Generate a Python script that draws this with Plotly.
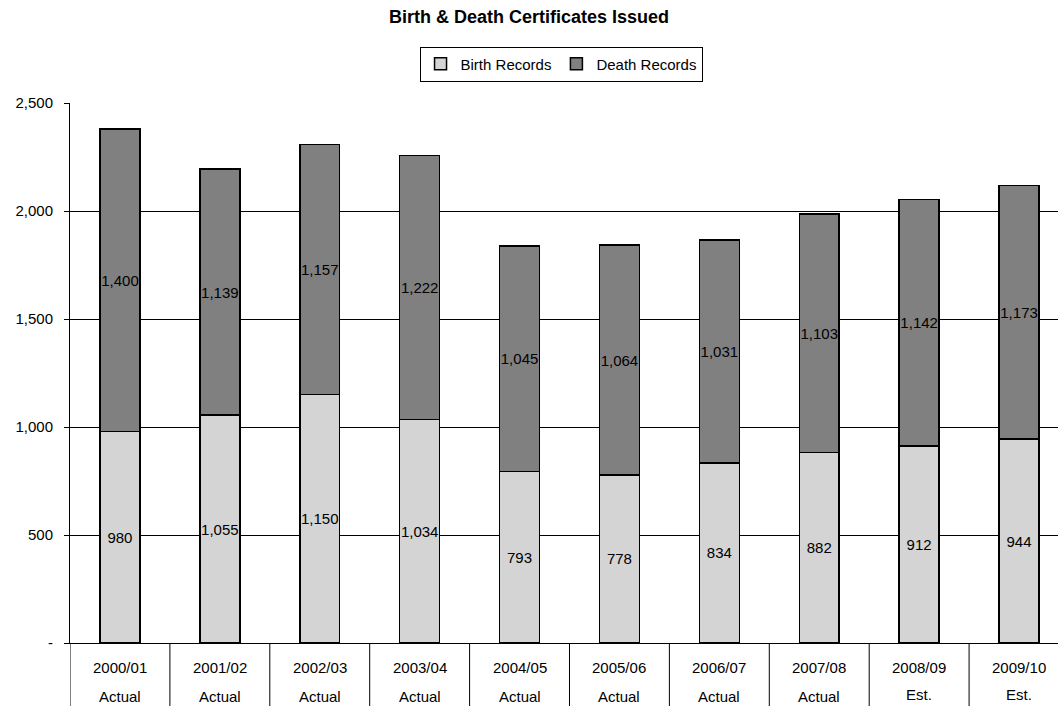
import plotly.graph_objects as go

categories = ["2000/01", "2001/02", "2002/03", "2003/04", "2004/05",
              "2005/06", "2006/07", "2007/08", "2008/09", "2009/10"]
status = ["Actual", "Actual", "Actual", "Actual", "Actual",
          "Actual", "Actual", "Actual", "Est.", "Est."]
birth = [980, 1055, 1150, 1034, 793, 778, 834, 882, 912, 944]
death = [1400, 1139, 1157, 1222, 1045, 1064, 1031, 1103, 1142, 1173]
y_ticks = [0, 500, 1000, 1500, 2000, 2500]
y_ticktext = ["-", "500", "1,000", "1,500", "2,000", "2,500"]

FONT = "Liberation Sans, Arial, sans-serif"
FS = 15
PLOT_H = 540
xs = list(range(len(categories)))

fig = go.Figure()
fig.add_trace(go.Bar(
    x=xs, y=birth, name="Birth Records", width=0.4,
    marker=dict(color="#d4d4d4", line=dict(color="#000000", width=1.5)),
    texttemplate="%{y:,}", textposition="inside", insidetextanchor="middle",
    textangle=0, constraintext="none",
    textfont=dict(family=FONT, size=FS, color="#000000"),
))
fig.add_trace(go.Bar(
    x=xs, y=death, name="Death Records", width=0.4,
    marker=dict(color="#808080", line=dict(color="#000000", width=1.5)),
    texttemplate="%{y:,}", textposition="inside", insidetextanchor="middle",
    textangle=0, constraintext="none",
    textfont=dict(family=FONT, size=FS, color="#000000"),
))

annotations = []
for i, (c, s) in enumerate(zip(categories, status)):
    annotations.append(dict(x=i, xref="x", y=-24 / PLOT_H, yref="paper",
                            text=c, showarrow=False, yanchor="middle",
                            font=dict(family=FONT, size=FS, color="#000")))
    off = -51 / PLOT_H if s == "Est." else -53 / PLOT_H
    annotations.append(dict(x=i, xref="x", y=off, yref="paper",
                            text=s, showarrow=False, yanchor="middle",
                            font=dict(family=FONT, size=FS, color="#000")))

# category separators below the axis (axis decoration)
shapes = []
for i in range(len(categories)):
    shapes.append(dict(type="line", xref="x", yref="paper",
                       x0=i - 0.5, x1=i - 0.5, y0=0, y1=-63 / PLOT_H,
                       line=dict(color="#000", width=1)))

fig.update_layout(
    width=1058, height=706,
    margin=dict(l=70, r=0, t=103, b=63),
    paper_bgcolor="white", plot_bgcolor="white",
    barmode="stack",
    font=dict(family=FONT, size=FS, color="#000"),
    title=dict(text="<b>Birth & Death Certificates Issued</b>",
               x=0.5, xanchor="center", y=1 - 17 / 706, yanchor="middle",
               font=dict(family=FONT, size=18, color="#000")),
    legend=dict(orientation="h", x=0.497, xanchor="center",
                y=1 + 39 / PLOT_H, yanchor="middle",
                bordercolor="#000", borderwidth=1, bgcolor="white",
                font=dict(family=FONT, size=FS, color="#000"),
                itemwidth=30, traceorder="normal", tracegroupgap=0),
    showlegend=True,
    annotations=annotations,
    shapes=shapes,
)
fig.update_xaxes(
    range=[-0.5, 9.39], showgrid=False, zeroline=False,
    showline=True, linecolor="#000", linewidth=1,
    tickmode="array", tickvals=xs, ticktext=categories,
    showticklabels=False, ticks="",
)
fig.update_yaxes(
    range=[0, 2500], tickmode="array", tickvals=y_ticks, ticktext=y_ticktext,
    showgrid=True, gridcolor="#000", gridwidth=1,
    showline=True, linecolor="#000", linewidth=1,
    ticks="outside", ticklen=5, tickcolor="#000",
    zeroline=False, tickfont=dict(family=FONT, size=FS, color="#000"),
    ticklabelstandoff=8,
)

fig.write_html("out.html")
